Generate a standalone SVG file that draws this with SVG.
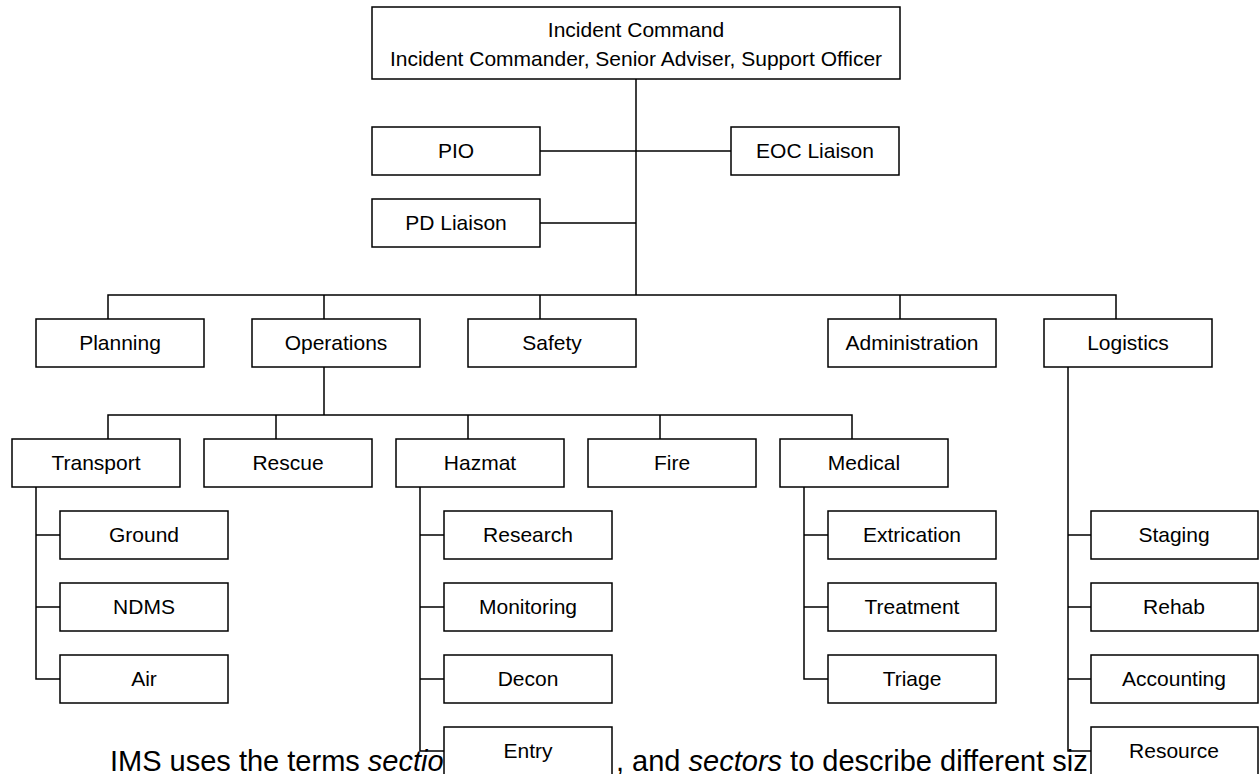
<svg xmlns="http://www.w3.org/2000/svg" width="1259" height="774" viewBox="0 0 1259 774">
<style>
.b{fill:#fff;stroke:#000;stroke-width:1.5}
.t{font-family:"Liberation Sans",Arial,sans-serif;font-size:21px;fill:#000;text-anchor:middle}
.c{fill:none;stroke:#000;stroke-width:1.5}
.p{font-family:"Liberation Sans",Arial,sans-serif;font-size:29px;fill:#000}
</style>
<rect width="1259" height="774" fill="#fff"/>
<g id="paragraph">
<text class="p" x="110" y="771">IMS uses the terms <tspan font-style="italic">sectio</tspan></text>
<text class="p" x="616" y="771">, and <tspan font-style="italic">sectors</tspan> to describe different siz</text>
</g>
<g id="connectors" class="c">
<path d="M636 79V295M540 151H731M540 223H636"/>
<path d="M108 319V295H1116V319M324 295V319M540 295V319M900 295V319"/>
<path d="M324 367V415M108 439V415H852V439M276 415V439M468 415V439M660 415V439"/>
<path d="M36 487V679H60M36 535H60M36 607H60"/>
<path d="M420 487V751H444M420 535H444M420 607H444M420 679H444"/>
<path d="M804 487V679H828M804 535H828M804 607H828"/>
<path d="M1068 367V751H1091M1068 535H1091M1068 607H1091M1068 679H1091"/>
</g>
<g id="incident-command"><rect class="b" x="372" y="7" width="528" height="72"/><text class="t" x="636" y="37">Incident Command</text><text class="t" x="636" y="66">Incident Commander, Senior Adviser, Support Officer</text></g>
<g id="pio"><rect class="b" x="372" y="127" width="168" height="48"/><text class="t" x="456" y="158">PIO</text></g>
<g id="eoc-liaison"><rect class="b" x="731" y="127" width="168" height="48"/><text class="t" x="815" y="158">EOC Liaison</text></g>
<g id="pd-liaison"><rect class="b" x="372" y="199" width="168" height="48"/><text class="t" x="456" y="230">PD Liaison</text></g>
<g id="planning"><rect class="b" x="36" y="319" width="168" height="48"/><text class="t" x="120" y="350">Planning</text></g>
<g id="operations"><rect class="b" x="252" y="319" width="168" height="48"/><text class="t" x="336" y="350">Operations</text></g>
<g id="safety"><rect class="b" x="468" y="319" width="168" height="48"/><text class="t" x="552" y="350">Safety</text></g>
<g id="administration"><rect class="b" x="828" y="319" width="168" height="48"/><text class="t" x="912" y="350">Administration</text></g>
<g id="logistics"><rect class="b" x="1044" y="319" width="168" height="48"/><text class="t" x="1128" y="350">Logistics</text></g>
<g id="transport"><rect class="b" x="12" y="439" width="168" height="48"/><text class="t" x="96" y="470">Transport</text></g>
<g id="rescue"><rect class="b" x="204" y="439" width="168" height="48"/><text class="t" x="288" y="470">Rescue</text></g>
<g id="hazmat"><rect class="b" x="396" y="439" width="168" height="48"/><text class="t" x="480" y="470">Hazmat</text></g>
<g id="fire"><rect class="b" x="588" y="439" width="168" height="48"/><text class="t" x="672" y="470">Fire</text></g>
<g id="medical"><rect class="b" x="780" y="439" width="168" height="48"/><text class="t" x="864" y="470">Medical</text></g>
<g id="ground"><rect class="b" x="60" y="511" width="168" height="48"/><text class="t" x="144" y="542">Ground</text></g>
<g id="ndms"><rect class="b" x="60" y="583" width="168" height="48"/><text class="t" x="144" y="614">NDMS</text></g>
<g id="air"><rect class="b" x="60" y="655" width="168" height="48"/><text class="t" x="144" y="686">Air</text></g>
<g id="research"><rect class="b" x="444" y="511" width="168" height="48"/><text class="t" x="528" y="542">Research</text></g>
<g id="monitoring"><rect class="b" x="444" y="583" width="168" height="48"/><text class="t" x="528" y="614">Monitoring</text></g>
<g id="decon"><rect class="b" x="444" y="655" width="168" height="48"/><text class="t" x="528" y="686">Decon</text></g>
<g id="entry"><rect class="b" x="444" y="727" width="168" height="48"/><text class="t" x="528" y="758">Entry</text></g>
<g id="extrication"><rect class="b" x="828" y="511" width="168" height="48"/><text class="t" x="912" y="542">Extrication</text></g>
<g id="treatment"><rect class="b" x="828" y="583" width="168" height="48"/><text class="t" x="912" y="614">Treatment</text></g>
<g id="triage"><rect class="b" x="828" y="655" width="168" height="48"/><text class="t" x="912" y="686">Triage</text></g>
<g id="staging"><rect class="b" x="1091" y="511" width="167" height="48"/><text class="t" x="1174" y="542">Staging</text></g>
<g id="rehab"><rect class="b" x="1091" y="583" width="167" height="48"/><text class="t" x="1174" y="614">Rehab</text></g>
<g id="accounting"><rect class="b" x="1091" y="655" width="167" height="48"/><text class="t" x="1174" y="686">Accounting</text></g>
<g id="resource"><rect class="b" x="1091" y="727" width="167" height="48"/><text class="t" x="1174" y="758">Resource</text></g>
</svg>
